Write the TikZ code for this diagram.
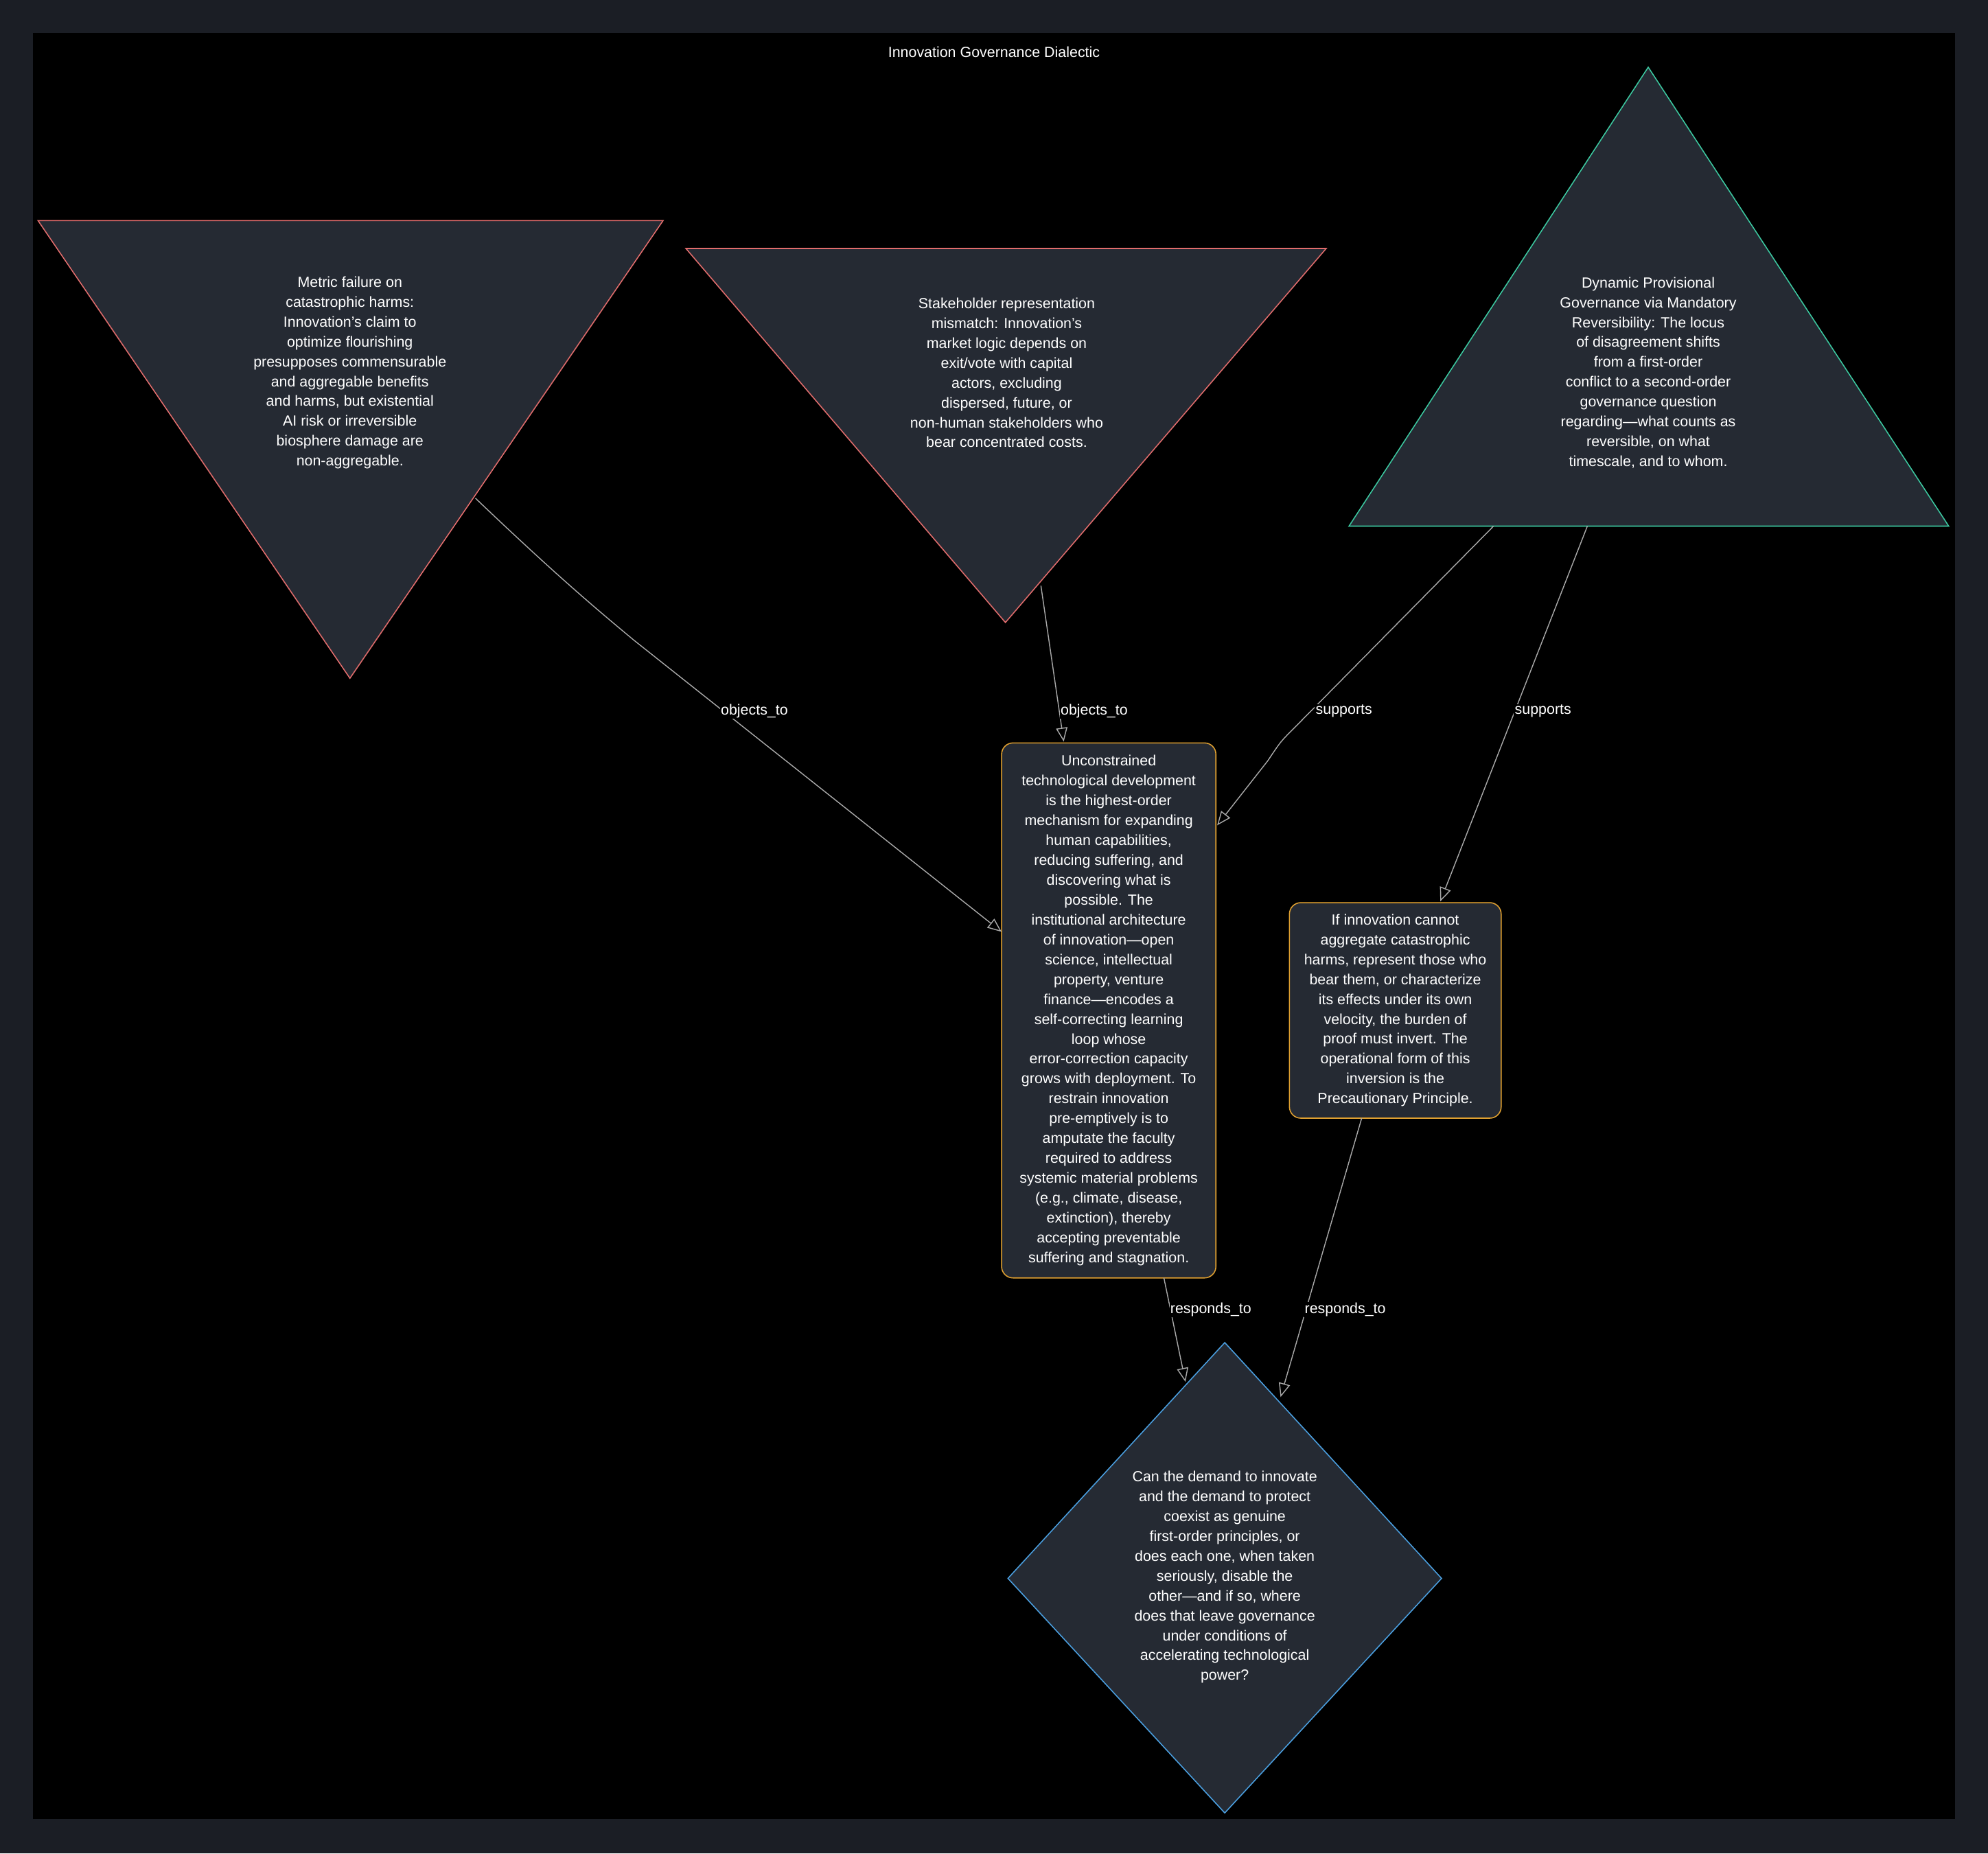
\documentclass[tikz,border=0pt]{standalone}
\usepackage{fontspec}
\setmainfont{Liberation Sans}
\usetikzlibrary{arrows.meta,shapes.geometric}
\definecolor{outerbg}{HTML}{1B1E25}
\definecolor{shapefill}{HTML}{252A33}
\definecolor{redline}{HTML}{E06C6C}
\definecolor{tealline}{HTML}{3CC8A0}
\definecolor{orangeline}{HTML}{E0A030}
\definecolor{blueline}{HTML}{4A9FE0}
\definecolor{edgecol}{HTML}{A8A8A8}
\begin{document}
\begin{tikzpicture}[x=0.05cm,y=-0.05cm,
  txt/.style={text=white,align=center,font=\fontsize{16.5}{22.3}\selectfont,inner sep=0pt},
  shp/.style={fill=shapefill,line width=1.2pt},
  edge/.style={draw=edgecol,line width=1.1pt,-{Triangle[open,length=0.55cm,width=0.45cm]}},
  lbl/.style={text=white,fill=black,font=\fontsize{16.5}{20}\selectfont,inner sep=1pt}]
\useasboundingbox (0,0) rectangle (1568,1462);
\fill[outerbg] (0,0) rectangle (1568,1462);
\fill[black] (26,26) rectangle (1542,1435);
\node[txt] (title) at (784,41) {Innovation Governance Dialectic};
% shapes
\draw[shp,draw=redline] (30,174) -- (523,174) -- (276,535) -- cycle;
\draw[shp,draw=redline] (541,196) -- (1046,196) -- (793,491) -- cycle;
\draw[shp,draw=tealline] (1300,53) -- (1537,415) -- (1064,415) -- cycle;
\draw[shp,draw=orangeline,rounded corners=0.45cm] (790,586) rectangle (959,1008);
\draw[shp,draw=orangeline,rounded corners=0.45cm] (1017,712) rectangle (1184,882);
\draw[shp,draw=blueline] (966,1059) -- (1137,1245) -- (966,1430) -- (795,1245) -- cycle;
% texts
\node[txt] (t1) at (276,294) {Metric failure on\\catastrophic harms:\\Innovation’s claim to\\optimize flourishing\\presupposes commensurable\\and aggregable benefits\\and harms, but existential\\AI risk or irreversible\\biosphere damage are\\non-aggregable.};
\node[txt] (t2) at (794,294) {Stakeholder representation\\mismatch: Innovation’s\\market logic depends on\\exit/vote with capital\\actors, excluding\\dispersed, future, or\\non-human stakeholders who\\bear concentrated costs.};
\node[txt] (t3) at (1300,294) {Dynamic Provisional\\Governance via Mandatory\\Reversibility: The locus\\of disagreement shifts\\from a first-order\\conflict to a second-order\\governance question\\regarding—what counts as\\reversible, on what\\timescale, and to whom.};
\node[txt] (main) at (874.5,797) {Unconstrained\\technological development\\is the highest-order\\mechanism for expanding\\human capabilities,\\reducing suffering, and\\discovering what is\\possible. The\\institutional architecture\\of innovation—open\\science, intellectual\\property, venture\\finance—encodes a\\self-correcting learning\\loop whose\\error-correction capacity\\grows with deployment. To\\restrain innovation\\pre-emptively is to\\amputate the faculty\\required to address\\systemic material problems\\(e.g., climate, disease,\\extinction), thereby\\accepting preventable\\suffering and stagnation.};
\node[txt] (prec) at (1100.5,797) {If innovation cannot\\aggregate catastrophic\\harms, represent those who\\bear them, or characterize\\its effects under its own\\velocity, the burden of\\proof must invert. The\\operational form of this\\inversion is the\\Precautionary Principle.};
\node[txt] (q) at (966,1244) {Can the demand to innovate\\and the demand to protect\\coexist as genuine\\first-order principles, or\\does each one, when taken\\seriously, disable the\\other—and if so, where\\does that leave governance\\under conditions of\\accelerating technological\\power?};
% anchor coordinates
\coordinate (a1) at (375,393); \coordinate (b1) at (790,735);
\coordinate (a2) at (821,462); \coordinate (b2) at (839,585);
\coordinate (a3) at (1178,415); \coordinate (m3) at (1010,585); \coordinate (b3) at (960,651);
\coordinate (a4) at (1252,415); \coordinate (b4) at (1136,711);
\coordinate (a5) at (918,1008); \coordinate (b5) at (935,1090);
\coordinate (a6) at (1074,882); \coordinate (b6) at (1010,1102);
% edges
\draw[edge] (a1) .. controls (440,455) and (470,480) .. (500,505) -- (b1);
\draw[edge] (a2) -- (b2);
\draw[edge] (a3) -- (1020,575) .. controls (m3) .. (1000,600) -- (b3);
\draw[edge] (a4) -- (b4);
\draw[edge] (a5) -- (b5);
\draw[edge] (a6) -- (b6);
% labels
\node[lbl] (l1) at (595,561) {objects\_to};
\node[lbl] (l2) at (863,561) {objects\_to};
\node[lbl] (l3) at (1060,561) {supports};
\node[lbl] (l4) at (1217,561) {supports};
\node[lbl] (l5) at (955,1033) {responds\_to};
\node[lbl] (l6) at (1061,1033) {responds\_to};
\end{tikzpicture}
\end{document}
